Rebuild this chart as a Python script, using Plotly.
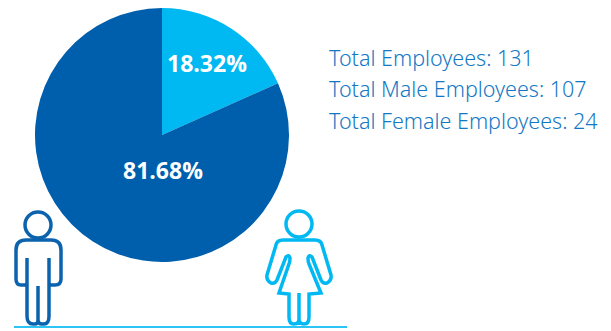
import plotly.graph_objects as go

categories = ["Female", "Male"]
employees = [24, 107]
slice_colors = ["#00B9F2", "#005FAD"]
summary_lines = [
    "Total Employees: 131",
    "Total Male Employees: 107",
    "Total Female Employees: 24",
]
W, H = 611, 331
MALE_BLUE = "#0B63AE"
FEMALE_BLUE = "#00B9F2"
SUMMARY_BLUE = "#1378C4"

# Outline figures, in pixel units of the hidden overlay axes
male_body = (
    "M27,258 L27,316 Q27,324 33,324 L35,324 Q38,324 38,320 L38,286 M38,320 Q38,324 42,324 "
    "L44,324 Q49,324 49,316 L49,258 M27,283 Q27,285 23,285 L21,285 Q16,285 16,279 "
    "L16,250 Q16,240 26,240 L51,240 Q61,240 61,250 L61,279 Q61,285 55,285 L53,285 Q49,285 49,283"
)
female_body = (
    "M299,293 L299,319 Q299,324 304,324 Q309,324 309,317 L309,294 L321,293 L309,264 "
    "Q308,262 308,258 Q309,254 312,257 L321,280 Q323,284 327,283 Q332,280 331,275 L322,245 "
    "Q321,240 315,240 L283,240 Q277,240 276,245 L267,275 Q266,280 271,283 Q275,284 277,280 "
    "L286,257 Q289,254 290,258 Q290,262 289,264 L279,293 L289,294 L289,317 Q289,324 294,324 "
    "Q299,324 299,319"
)


def head(cx, cy, r, color):
    return dict(type="circle", xref="x", yref="y", x0=cx - r, x1=cx + r, y0=cy - r, y1=cy + r,
                line=dict(color=color, width=3.5))


def share(value):
    return f"{value / sum(employees) * 100:.2f}%"


# Slice labels sit at fixed spots inside each wedge, so they are placed as annotations
slice_label_spots = [(207, 63), (163, 170)]

fig = go.Figure(go.Pie(
    labels=categories,
    values=employees,
    sort=False,
    direction="clockwise",
    rotation=0,
    marker=dict(colors=slice_colors, line=dict(width=0)),
    textinfo="none",
    hoverinfo="label+value+percent",
    domain=dict(x=[35 / W, 289 / W], y=[1 - 262 / H, 1 - 8 / H]),
))

summary_notes = [
    dict(text=line, x=327, y=57 + i * 31.5, xref="x", yref="y", xanchor="left", yanchor="middle",
         showarrow=False,
         font=dict(family="Noto Sans, sans-serif", size=21.5, color=SUMMARY_BLUE, weight=300))
    for i, line in enumerate(summary_lines)
]
slice_notes = [
    dict(text=share(value), x=spot[0], y=spot[1], xref="x", yref="y", showarrow=False,
         font=dict(family="Open Sans, sans-serif", size=23, color="white", weight=700))
    for value, spot in zip(employees, slice_label_spots)
]

fig.update_layout(
    width=W, height=H, margin=dict(l=0, r=0, t=0, b=0),
    paper_bgcolor="white", plot_bgcolor="rgba(0,0,0,0)", showlegend=False,
    xaxis=dict(range=[0, W], visible=False, fixedrange=True),
    yaxis=dict(range=[H, 0], visible=False, fixedrange=True),
    shapes=[
        head(38, 225, 13, MALE_BLUE),
        dict(type="path", path=male_body, xref="x", yref="y",
             line=dict(color=MALE_BLUE, width=3.5)),
        head(299, 224, 13, FEMALE_BLUE),
        dict(type="path", path=female_body, xref="x", yref="y",
             line=dict(color=FEMALE_BLUE, width=3.5)),
        dict(type="line", xref="x", yref="y", x0=14, x1=347, y0=327, y1=327,
             line=dict(color="#2BC4F4", width=2)),
    ],
    annotations=summary_notes + slice_notes,
)

fig.write_html("out.html", config=dict(displayModeBar=False))
